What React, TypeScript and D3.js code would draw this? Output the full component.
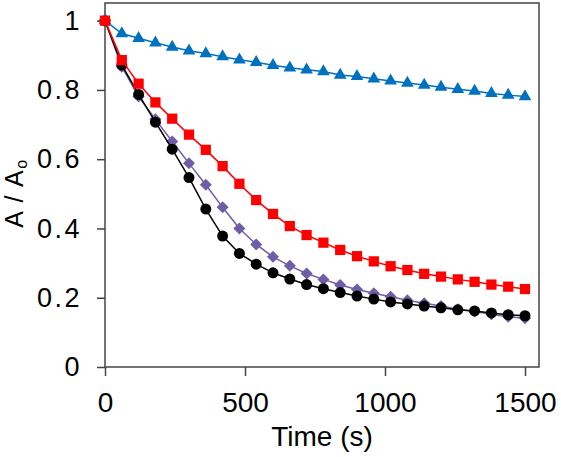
import React, { useEffect, useRef } from 'react';
import * as d3 from 'd3';

// sampling times (s)
const times = [0, 60, 120, 180, 240, 300, 360, 420, 480, 540, 600, 660, 720, 780, 840, 900, 960, 1020, 1080, 1140, 1200, 1260, 1320, 1380, 1440, 1500];

const blueSeries = [1, 0.963, 0.949, 0.936, 0.924, 0.913, 0.905, 0.896, 0.887, 0.880, 0.871, 0.864, 0.858, 0.853, 0.843, 0.839, 0.832, 0.826, 0.820, 0.814, 0.808, 0.802, 0.797, 0.790, 0.785, 0.781];
const redSeries = [1, 0.886, 0.818, 0.764, 0.717, 0.671, 0.627, 0.580, 0.529, 0.482, 0.442, 0.407, 0.381, 0.359, 0.338, 0.320, 0.305, 0.291, 0.280, 0.269, 0.261, 0.253, 0.246, 0.238, 0.232, 0.225];
const purpleSeries = [1, 0.867, 0.781, 0.715, 0.651, 0.588, 0.526, 0.461, 0.400, 0.354, 0.318, 0.292, 0.270, 0.253, 0.237, 0.224, 0.213, 0.203, 0.193, 0.184, 0.176, 0.167, 0.160, 0.152, 0.145, 0.141];
const blackSeries = [1, 0.872, 0.787, 0.707, 0.629, 0.547, 0.456, 0.378, 0.328, 0.297, 0.272, 0.254, 0.238, 0.226, 0.215, 0.205, 0.196, 0.188, 0.182, 0.176, 0.171, 0.165, 0.162, 0.156, 0.151, 0.148];

const xTicks = [0, 500, 1000, 1500];
const yTicks = [0, 0.2, 0.4, 0.6, 0.8, 1];

const width = 561;
const height = 457;
const left = 105;
const right = 539;
const top = 3;
const bottom = 367;
const font = 'Liberation Sans, Arial, sans-serif';

const App: React.FC = () => {
	const svgRef = useRef<SVGSVGElement | null>(null);

	useEffect(() => {
		if (!svgRef.current) return;
		const svg = d3.select(svgRef.current);
		svg.selectAll('*').remove();

		const x = d3.scaleLinear().domain([0, 1550]).range([left, right]);
		const y = d3.scaleLinear().domain([0, 1.051]).range([bottom, top]);

		// plot frame
		svg.append('rect')
			.attr('x', left)
			.attr('y', top)
			.attr('width', right - left)
			.attr('height', bottom - top)
			.attr('fill', 'none')
			.attr('stroke', '#444')
			.attr('stroke-width', 1.5);

		// x axis
		svg.append('g')
			.attr('transform', `translate(0,${bottom})`)
			.call(d3.axisBottom(x).tickValues(xTicks).tickSize(9).tickPadding(16).tickFormat(d3.format('d')))
			.call(g => g.select('.domain').remove())
			.call(g => g.selectAll('line').attr('stroke', '#444').attr('stroke-width', 1.5))
			.call(g => g.selectAll('text').attr('font-family', font).attr('font-size', 28).attr('fill', '#000'));

		// y axis
		svg.append('g')
			.attr('transform', `translate(${left},0)`)
			.call(d3.axisLeft(y).tickValues(yTicks).tickSize(8).tickPadding(15).tickFormat(d => d3.format('')(+d)))
			.call(g => g.select('.domain').remove())
			.call(g => g.selectAll('line').attr('stroke', '#444').attr('stroke-width', 1.5))
			.call(g => g.selectAll('text')
				.attr('font-family', font)
				.attr('font-size', 27)
				.attr('letter-spacing', 2.5)
				.attr('fill', '#000'));

		svg.append('text')
			.attr('x', (left + right) / 2)
			.attr('y', 446)
			.attr('text-anchor', 'middle')
			.attr('font-family', font)
			.attr('font-size', 28)
			.text('Time (s)');

		const yLabel = svg.append('text')
			.attr('transform', `translate(23,${(top + bottom) / 2 + 8}) rotate(-90)`)
			.attr('text-anchor', 'middle')
			.attr('font-family', font)
			.attr('font-size', 25)
			.attr('letter-spacing', 1.5);
		yLabel.append('tspan').text('A / A');
		yLabel.append('tspan').attr('font-size', 16).attr('dy', 4).text('o');

		const series = [
			{ values: purpleSeries, color: '#6F5EA6', symbol: d3.symbolSquare, size: 72, rotate: 45 },
			{ values: blackSeries, color: '#000000', symbol: d3.symbolCircle, size: 95, rotate: 0 },
			{ values: blueSeries, color: '#0070C0', symbol: d3.symbolTriangle, size: 70, rotate: 0 },
			{ values: redSeries, color: '#FF0000', symbol: d3.symbolSquare, size: 105, rotate: 0 },
		];

		const line = d3.line<number>()
			.x((_, i) => x(times[i]))
			.y(d => y(d));

		series.forEach(s => {
			svg.append('path')
				.datum(s.values)
				.attr('fill', 'none')
				.attr('stroke', s.color)
				.attr('stroke-width', 1.5)
				.attr('d', line);

			svg.append('g')
				.selectAll('path')
				.data(s.values)
				.enter().append('path')
				.attr('d', d3.symbol(s.symbol, s.size)())
				.attr('transform', (d, i) => `translate(${x(times[i])},${y(d)}) rotate(${s.rotate})`)
				.attr('fill', s.color);
		});
	}, []);

	return (
		<svg
			ref={svgRef}
			width={width}
			height={height}
			style={{ position: 'absolute', left: 0, top: 0, background: '#fff' }}
		/>
	);
};

export default App;
